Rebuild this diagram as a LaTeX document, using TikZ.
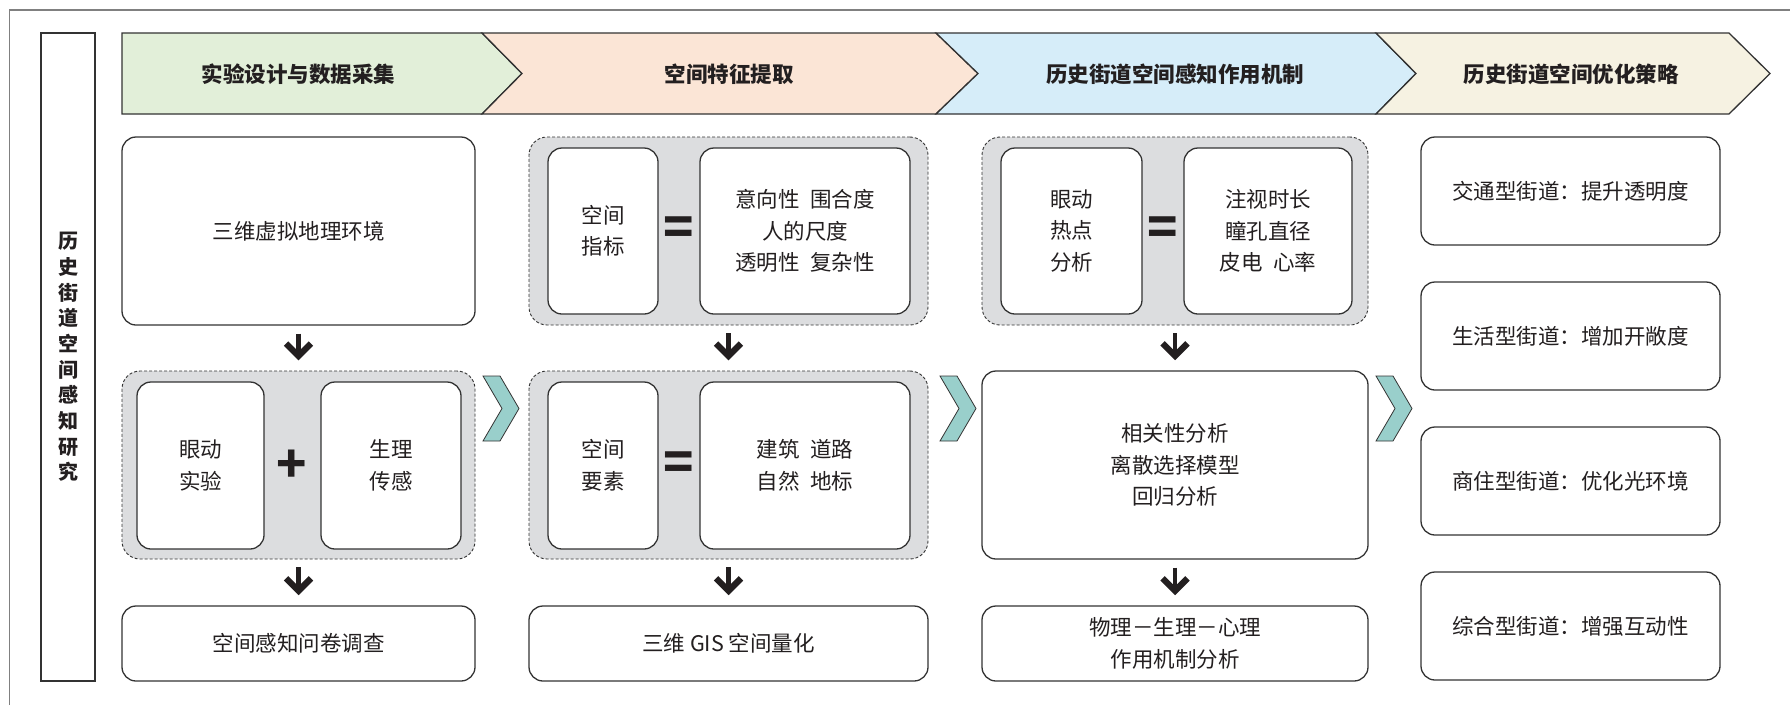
\documentclass[tikz,border=0pt]{standalone}
\usepackage{fontspec}
\setmainfont{Noto Sans CJK SC}
\usetikzlibrary{calc}
\definecolor{txt}{HTML}{231F20}
\definecolor{linec}{HTML}{333333}
\definecolor{framec}{HTML}{808080}
\definecolor{grayf}{HTML}{DCDDDF}
\definecolor{tealc}{HTML}{99CFCB}
\definecolor{hgreen}{HTML}{E2EFD9}
\definecolor{hpeach}{HTML}{FBE5D6}
\definecolor{hblue}{HTML}{D6EDF9}
\definecolor{hcream}{HTML}{F6F2E2}
\newcommand\bodyfont{\fontsize{21.5}{31.5}\selectfont}
\newcommand\hdrfont{\bfseries\fontsize{21.5}{26}\selectfont}
\newcommand\vfont{\bfseries\fontsize{20}{25.7}\selectfont}
\newcommand\symfont{\bfseries\fontsize{50}{50}\selectfont}
\newcommand\bx[7]{\node[#1, minimum width={#5-#3}, minimum height={#6-#4}] (#2) at ({(#3+#5)/2},{(#4+#6)/2}) {#7};}
% down arrow from node anchor #1 to node anchor #2 (stem + heavy V head)
\newcommand\darrow[2]{%
  \draw[stemline] ([yshift=-8pt]#1) -- ([yshift=16pt]#2);
  \draw[vhead] ($([yshift=14.5pt]#2)+(-12.5,-12.5)$) -- ([yshift=14.5pt]#2) -- ($([yshift=14.5pt]#2)+(12.5,-12.5)$);}
\begin{document}
\begin{tikzpicture}[x=1pt,y=-1pt,
  box/.style={draw=linec, line width=1.3pt, fill=white, rounded corners=14pt, text=txt, align=center, inner sep=0pt, font=\bodyfont},
  grp/.style={draw=linec, line width=0.9pt, dash pattern=on 3pt off 2pt, fill=grayf, rounded corners=18pt, inner sep=0pt},
  hdr/.style={draw=linec, line width=1.3pt, line join=miter},
  htxt/.style={text=txt, font=\hdrfont, inner sep=0pt},
  chev/.style={fill=tealc, draw=linec, line width=0.8pt, line join=miter},
  stemline/.style={draw=txt, line width=4.5pt},
  vhead/.style={draw=txt, line width=6.2pt, line join=miter, line cap=butt},
  sym/.style={text=txt, font=\symfont, inner sep=0pt}
]
\useasboundingbox (0,0) rectangle (1790,705);
% outer frame
\draw[framec, line width=1.6pt] (9.5,705) -- (9.5,10) -- (1790,10);
% left vertical title
\bx{box, rounded corners=0pt, font=\vfont}{side}{41}{33}{95}{681}{历\\史\\街\\道\\空\\间\\感\\知\\研\\究}
% headers
\draw[hdr, fill=hgreen] (122,33) -- (482,33) -- (522,73.5) -- (482,114) -- (122,114) -- cycle;
\draw[hdr, fill=hpeach] (482,33) -- (936,33) -- (978,73.5) -- (936,114) -- (482,114) -- (522,73.5) -- cycle;
\draw[hdr, fill=hblue] (936,33) -- (1376,33) -- (1416,73.5) -- (1376,114) -- (936,114) -- (978,73.5) -- cycle;
\draw[hdr, fill=hcream] (1376,33) -- (1729,33) -- (1770,73.5) -- (1729,114) -- (1376,114) -- (1416,73.5) -- cycle;
\node[htxt] (h1) at (298.5,74) {实验设计与数据采集};
\node[htxt] (h2) at (729,74) {空间特征提取};
\node[htxt] (h3) at (1175,74) {历史街道空间感知作用机制};
\node[htxt] (h4) at (1571,74) {历史街道空间优化策略};
% column 1
\bx{box}{b11}{122}{137}{475}{325}{三维虚拟地理环境}
\bx{grp}{g12}{122}{371}{475}{559}{}
\bx{box}{i12a}{137}{382}{264}{549}{眼动\\实验}
\bx{box}{i12b}{321}{382}{461}{549}{生理\\传感}
\node[sym] (p12) at (292,466) {+};
\bx{box}{b13}{122}{606}{475}{681}{空间感知问卷调查}
% column 2
\bx{grp}{g21}{529}{137}{928}{325}{}
\bx{box}{i21a}{548}{148}{658}{314}{空间\\指标}
\bx{box}{i21b}{700}{148}{910}{314}{意向性\hspace{0.5em}围合度\\人的尺度\\透明性\hspace{0.5em}复杂性}
\node[sym] (e21) at (679,231) {=};
\bx{grp}{g22}{529}{371}{928}{559}{}
\bx{box}{i22a}{548}{382}{658}{549}{空间\\要素}
\bx{box}{i22b}{700}{382}{910}{549}{建筑\hspace{0.5em}道路\\自然\hspace{0.5em}地标}
\node[sym] (e22) at (679,466) {=};
\bx{box}{b23}{529}{606}{928}{681}{三维 GIS 空间量化}
% column 3
\bx{grp}{g31}{982}{137}{1368}{325}{}
\bx{box}{i31a}{1001}{148}{1142}{314}{眼动\\热点\\分析}
\bx{box}{i31b}{1184}{148}{1352}{314}{注视时长\\瞳孔直径\\皮电\hspace{0.5em}心率}
\node[sym] (e31) at (1163,231) {=};
\bx{box}{b32}{982}{371}{1368}{559}{相关性分析\\离散选择模型\\回归分析}
\bx{box}{b33}{982}{606}{1368}{681}{物理－生理－心理\\作用机制分析}
% column 4
\bx{box}{b41}{1421}{137}{1720}{245}{交通型街道：提升透明度}
\bx{box}{b42}{1421}{282}{1720}{390}{生活型街道：增加开敞度}
\bx{box}{b43}{1421}{427}{1720}{535}{商住型街道：优化光环境}
\bx{box}{b44}{1421}{572}{1720}{680}{综合型街道：增强互动性}
% teal chevrons
\draw[chev] (483,376) -- (500,376) -- (519,408.5) -- (500,441) -- (483,441) -- (502,408.5) -- cycle;
\draw[chev] (940,376) -- (957,376) -- (976,408.5) -- (957,441) -- (940,441) -- (959,408.5) -- cycle;
\draw[chev] (1376,376) -- (1393,376) -- (1412,408.5) -- (1393,441) -- (1376,441) -- (1395,408.5) -- cycle;
% down arrows
\darrow{b11.south}{g12.north}
\darrow{g12.south}{b13.north}
\darrow{g21.south}{g22.north}
\darrow{g22.south}{b23.north}
\darrow{g31.south}{b32.north}
\darrow{b32.south}{b33.north}
\end{tikzpicture}
\end{document}
